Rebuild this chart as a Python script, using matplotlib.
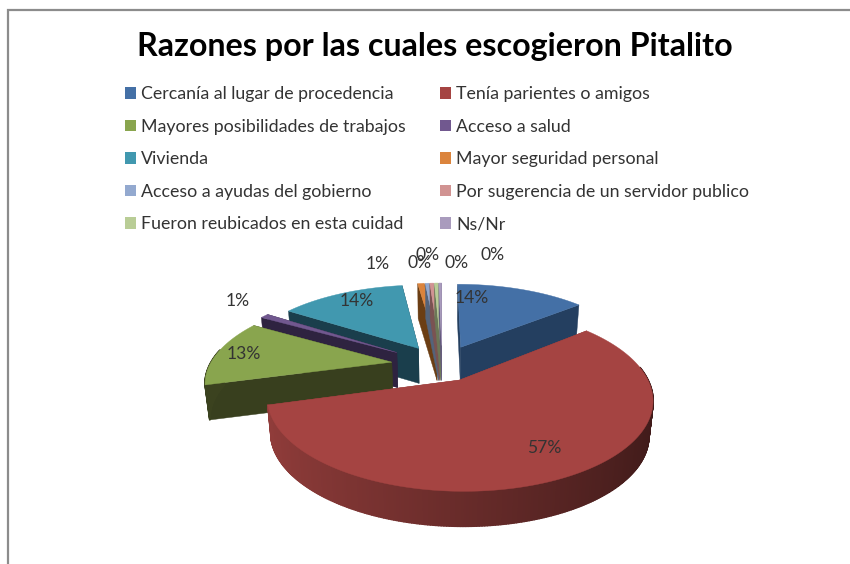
import numpy as np
import matplotlib
matplotlib.use("Agg")
import matplotlib.pyplot as plt
from matplotlib.collections import PolyCollection
from matplotlib.patches import Polygon, Patch

# ---- data ----
title = "Razones por las cuales escogieron Pitalito"
categories = ["Cercanía al lugar de procedencia", "Tenía parientes o amigos",
              "Mayores posibilidades de trabajos", "Acceso a salud",
              "Vivienda", "Mayor seguridad personal",
              "Acceso a ayudas del gobierno", "Por sugerencia de un servidor publico",
              "Fueron reubicados en esta cuidad", "Ns/Nr"]
values = [14.1, 56.6, 12.6, 0.9, 13.6, 0.7, 0.4, 0.4, 0.4, 0.3]

# ---- style ----
top_colors = ["#4470A6", "#A54442", "#89A54E", "#71588F", "#4198AF",
              "#DB843D", "#93A9CF", "#D19392", "#B9CD96", "#A99BBD"]
side_colors = ["#243F60", "#8B3A38", "#383F1E", "#2E2340", "#1A3E4C",
               "#6B3E14", "#54637A", "#7A5352", "#6B7757", "#62597A"]
explode = [0.25, 0.20, 0.28, 0.30, 0.25, 0.25, 0.25, 0.25, 0.25, 0.25]
draw_order = [5, 6, 7, 8, 9, 0, 4, 3, 2, 1]
label_xy = [(472, 298), (544, 448), (244, 354), (238, 301), (357, 301),
            (378, 264), (420, 263), (428, 255), (457, 263), (493, 255)]
legend_order = [0, 2, 4, 6, 8, 1, 3, 5, 7, 9]

CX, CY, A, B, K, DEPTH, SHRINK, START = 442, 365, 182, 82, 0.20, 35, 0.98, 0.0
INK = "#333333"
FONT = "Lato"

fig = plt.figure(figsize=(8.5, 5.64), dpi=100)
ax = fig.add_axes([0, 0, 1, 1])
ax.set_xlim(0, 850)
ax.set_ylim(564, 0)
ax.axis("off")


def project(u, v):
    s = 1.0 / (1.0 + K * v)
    return CX + A * u * s, CY - B * v * s


def lower(x, y):
    return CX + (x - CX) * SHRINK, y + DEPTH


def shade(hex_color, f):
    rgb = np.array(matplotlib.colors.to_rgb(hex_color))
    return tuple(np.clip(rgb * f, 0, 1))


fractions = np.array(values) / np.sum(values) * 360.0
ends = START + np.cumsum(fractions)
starts = ends - fractions

for i in draw_order:
    t0, t1 = np.radians(starts[i]), np.radians(ends[i])
    mid = (t0 + t1) / 2
    ou, ov = explode[i] * np.sin(mid), explode[i] * np.cos(mid)
    th = np.linspace(t0, t1, max(3, int(np.degrees(t1 - t0) * 1.5)))
    ax_, ay_ = project(np.array([ou]), np.array([ov]))
    ax0, ay0 = ax_[0], ay_[0]
    xs, ys = project(ou + np.sin(th), ov + np.cos(th))
    bx, by = lower(xs, ys)
    bax, bay = lower(ax0, ay0)
    # radial cut faces
    for k in (0, -1):
        ax.add_patch(Polygon([(ax0, ay0), (xs[k], ys[k]), (bx[k], by[k]), (bax, bay)],
                             closed=True, fc=side_colors[i], ec=side_colors[i], lw=0.3))
    # outer wall (only the part facing the viewer), shaded along the arc
    quads, cols = [], []
    for j in range(len(th) - 1):
        if np.cos(th[j]) > 0.15:
            continue
        quads.append([(xs[j], ys[j]), (xs[j + 1], ys[j + 1]), (bx[j + 1], by[j + 1]), (bx[j], by[j])])
        frac = 1 - (np.sin(th[j]) + 1) / 2
        cols.append(shade(side_colors[i], 0.45 + 0.6 * frac))
    if quads:
        ax.add_collection(PolyCollection(quads, facecolors=cols, edgecolors=cols, linewidths=1.2))
    # top face
    ax.add_patch(Polygon(np.column_stack([np.r_[ax0, xs], np.r_[ay0, ys]]),
                         closed=True, fc=top_colors[i], ec=top_colors[i], lw=0.3))

for v, (x, y) in zip(values, label_xy):
    ax.text(x, y, f"{v:.0f}%", ha="center", va="center", fontsize=12.6,
            color=INK, family=FONT)

ax.text(435, 46.5, title, ha="center", va="center", fontsize=23.2,
        fontweight="bold", color="black", family=FONT)

handles = [Patch(fc=top_colors[i], ec="none", label=categories[i]) for i in legend_order]
ax.legend(handles=handles, ncol=2, frameon=False, loc="upper left",
          bbox_to_anchor=(125 / 850, 1 - 86 / 564), borderaxespad=0, borderpad=0,
          prop={"family": FONT, "size": 12.8}, labelcolor=INK,
          handlelength=0.62, handleheight=0.62, handletextpad=0.3,
          labelspacing=0.93, columnspacing=1.9)

ax.plot([8, 8, 850], [564, 10, 10], color="#8C8C8C", lw=1.6, solid_joinstyle="miter")

fig.savefig("out.png", dpi=100)
